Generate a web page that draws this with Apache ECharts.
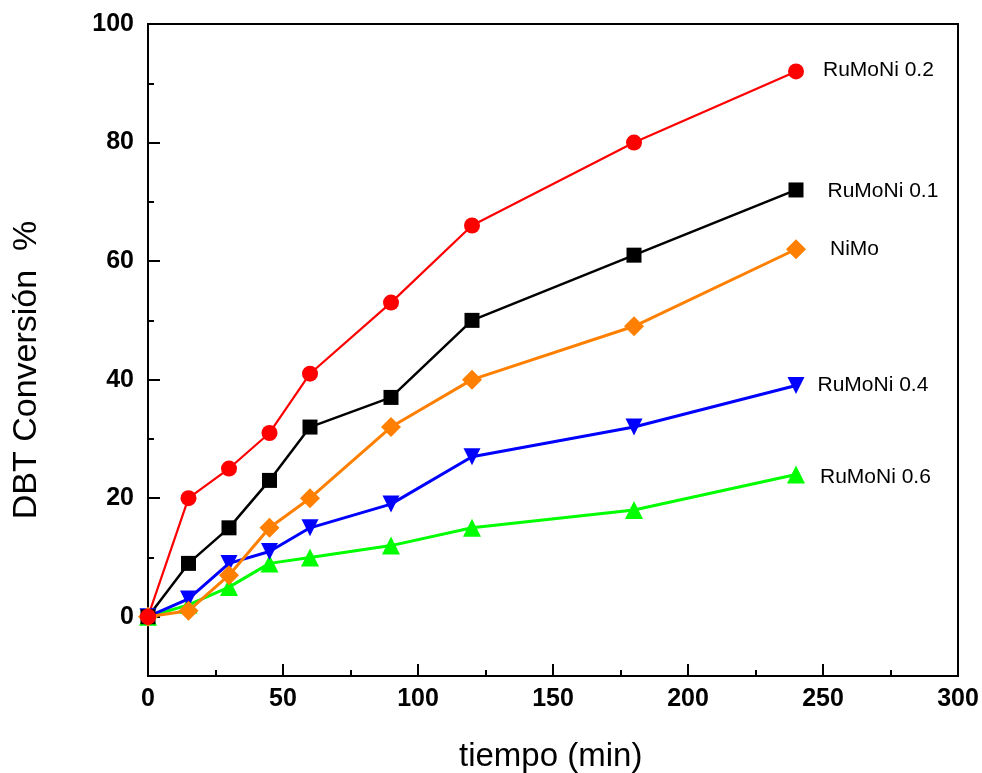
<!DOCTYPE html>
<html>
<head>
<meta charset="utf-8">
<script src="https://cdn.jsdelivr.net/npm/echarts@6/dist/echarts.min.js"></script>
<style>
  html, body { margin: 0; padding: 0; background: #fff; }
  #chart { width: 982px; height: 773px; }
</style>
</head>
<body>
<div id="chart"></div>
<script>
// Reaction time (min)
const tiempo = [0, 15, 30, 45, 60, 90, 120, 180, 240];

// DBT conversion (%) per catalyst
const ruMoNi02 = [0, 20, 25, 31, 41, 53, 66, 80, 92];
const ruMoNi01 = [0, 9, 15, 23, 32, 37, 50, 61, 72];
const niMo     = [0, 1, 7, 15, 20, 32, 40, 49, 62];
const ruMoNi04 = [0, 3, 9, 11, 15, 19, 27, 32, 39];
const ruMoNi06 = [0, 2, 5, 9, 10, 12, 15, 18, 24];

const yMajorTicks = [0, 20, 40, 60, 80, 100];
const yMinorTicks = [10, 30, 50, 70, 90];

const chart = echarts.init(document.getElementById('chart'));
const fontAxis = 'Liberation Sans, Arial, sans-serif';

function makeSeries(name, values, color, symbol, size, width, labelDist, labelDy) {
  const data = tiempo.map((t, i) => [t, values[i]]);
  const last = data.length - 1;
  data[last] = {
    value: data[last],
    label: {
      show: true,
      formatter: name,
      position: 'right',
      distance: labelDist,
      offset: [0, labelDy],
      color: '#000',
      fontFamily: fontAxis,
      fontSize: 21
    }
  };
  return {
    name: name,
    type: 'line',
    data: data,
    symbol: symbol,
    symbolSize: size,
    showAllSymbol: true,
    lineStyle: { color: color, width: width },
    itemStyle: { color: color },
    emphasis: { disabled: true },
    z: 2
  };
}

chart.setOption({
  animation: false,
  backgroundColor: '#fff',
  grid: {
    left: 148, right: 24, top: 24, bottom: 97,
    show: true, borderColor: '#000', borderWidth: 2, backgroundColor: 'transparent'
  },
  xAxis: {
    type: 'value', min: 0, max: 300, interval: 50,
    axisLine: { show: true, onZero: false, lineStyle: { color: '#000', width: 2 } },
    axisTick: { show: true, inside: true, length: 12, lineStyle: { color: '#000', width: 2 } },
    minorTick: { show: true, splitNumber: 2, length: 6, lineStyle: { color: '#000', width: 2 } },
    splitLine: { show: false },
    axisLabel: { color: '#000', fontSize: 25, fontWeight: 'bold', fontFamily: fontAxis, margin: 11 }
  },
  yAxis: [
    {
      type: 'value', min: -10, max: 100,
      axisLine: { show: true, onZero: false, lineStyle: { color: '#000', width: 2 } },
      axisTick: { show: true, inside: true, length: 12, customValues: yMajorTicks, lineStyle: { color: '#000', width: 2 } },
      splitLine: { show: false },
      axisLabel: { color: '#000', fontSize: 25, fontWeight: 'bold', fontFamily: fontAxis, margin: 14, customValues: yMajorTicks }
    },
    {
      type: 'value', min: -10, max: 100, position: 'left',
      axisLine: { show: false },
      axisTick: { show: true, inside: true, length: 6, customValues: yMinorTicks, lineStyle: { color: '#000', width: 2 } },
      splitLine: { show: false },
      axisLabel: { show: false }
    }
  ],
  graphic: [
    {
      type: 'text', left: 459, top: 740,
      style: { text: 'tiempo (min)', fontSize: 33, fontFamily: fontAxis, fill: '#000' }
    },
    {
      type: 'text', rotation: Math.PI / 2,
      x: 27, y: 370,
      style: { text: 'DBT Conversión  %', fontSize: 34, fontFamily: fontAxis, fill: '#000', textAlign: 'center', textVerticalAlign: 'middle' }
    }
  ],
  series: [
    makeSeries('RuMoNi 0.6', ruMoNi06, '#00ff00', 'triangle', 18, 3, 15, 3),
    makeSeries('RuMoNi 0.4', ruMoNi04, '#0000ff', 'path://M0,0 L10,0 L5,10 Z', 17, 3, 13, 0),
    makeSeries('NiMo', niMo, '#ff8000', 'diamond', 20, 3, 24, 0),
    makeSeries('RuMoNi 0.1', ruMoNi01, '#000000', 'rect', 15, 2.5, 24, 1),
    makeSeries('RuMoNi 0.2', ruMoNi02, '#ff0000', 'circle', 16, 2.2, 19, -1)
  ]
});
</script>
</body>
</html>
